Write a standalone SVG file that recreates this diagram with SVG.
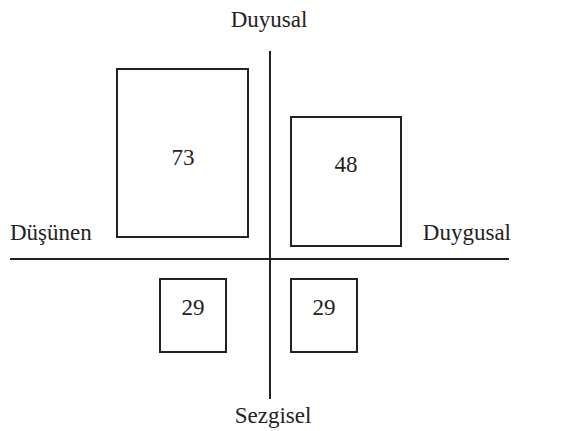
<svg xmlns="http://www.w3.org/2000/svg" width="579" height="431" viewBox="0 0 579 431">
<style>
.box{fill:none;stroke:#222;stroke-width:2}
.ax{stroke:#222;stroke-width:2}
text{font-family:"Liberation Serif","Times New Roman",serif;font-size:23px;fill:#222}
</style>
<rect width="579" height="431" fill="#fff"/>
<g id="connectors">
<line class="ax" x1="270" y1="51" x2="270" y2="399"/>
<line class="ax" x1="10" y1="259" x2="509" y2="259"/>
</g>
<g id="label-duyusal"><text x="269" y="27" text-anchor="middle">Duyusal</text></g>
<g id="label-dusunen"><text x="10" y="240">Düşünen</text></g>
<g id="label-duygusal"><text x="511" y="240" text-anchor="end">Duygusal</text></g>
<g id="label-sezgisel"><text x="273" y="423" text-anchor="middle">Sezgisel</text></g>
<g id="box73"><rect class="box" x="117" y="69" width="131" height="168"/><text x="183" y="165" text-anchor="middle">73</text></g>
<g id="box48"><rect class="box" x="291" y="117" width="110" height="129"/><text x="346" y="172" text-anchor="middle">48</text></g>
<g id="box29a"><rect class="box" x="160" y="279" width="66" height="73"/><text x="193" y="315" text-anchor="middle">29</text></g>
<g id="box29b"><rect class="box" x="291" y="279" width="66" height="73"/><text x="324" y="315" text-anchor="middle">29</text></g>
</svg>
